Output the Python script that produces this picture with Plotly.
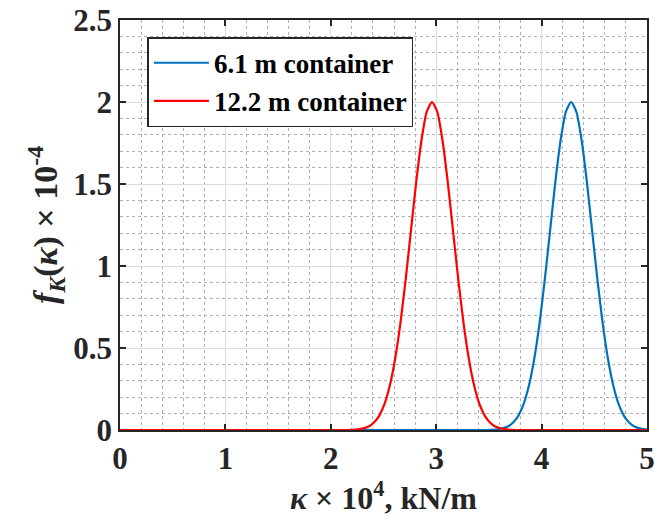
import plotly.graph_objects as go

# Values (x in 10^4 kN/m, y in 10^-4)
x_red = [0.0, 2.16, 2.26, 2.36, 2.41, 2.46, 2.51, 2.56, 2.61, 2.66, 2.71, 2.76, 2.81, 2.86, 2.91, 2.96,
         3.01, 3.06, 3.11, 3.16, 3.21, 3.26, 3.31, 3.36, 3.41, 3.46, 3.51, 3.56, 3.66, 3.76, 5.0]
y_red = [0.0, 0.0, 0.004, 0.022, 0.046, 0.088, 0.159, 0.271, 0.433, 0.649, 0.916, 1.213, 1.51, 1.765, 1.94, 2.0,
         1.94, 1.765, 1.51, 1.213, 0.916, 0.649, 0.433, 0.271, 0.159, 0.088, 0.046, 0.022, 0.004, 0.0, 0.0]

x_blue = [0.0, 3.48, 3.58, 3.68, 3.73, 3.78, 3.83, 3.88, 3.93, 3.98, 4.03, 4.08, 4.13, 4.18, 4.23, 4.28,
          4.33, 4.38, 4.43, 4.48, 4.53, 4.58, 4.63, 4.68, 4.73, 4.78, 4.83, 4.88, 4.98, 5.0]
y_blue = [0.0, 0.0, 0.004, 0.022, 0.046, 0.088, 0.159, 0.271, 0.433, 0.649, 0.916, 1.213, 1.51, 1.765, 1.94, 2.0,
          1.94, 1.765, 1.51, 1.213, 0.916, 0.649, 0.433, 0.271, 0.159, 0.088, 0.046, 0.022, 0.004, 0.003]

names = ["6.1 m container", "12.2 m container"]
x_ticks = [0, 1, 2, 3, 4, 5]
y_ticks = [0, 0.5, 1, 1.5, 2, 2.5]

FONT = "Liberation Serif"
AX = "#262626"

fig = go.Figure()
fig.add_trace(go.Scatter(x=x_blue, y=y_blue, mode="lines", name=names[0],
                         line=dict(color="#0072BD", width=2.2, shape="spline", smoothing=0.6)))
fig.add_trace(go.Scatter(x=x_red, y=y_red, mode="lines", name=names[1],
                         line=dict(color="#FF0000", width=2.2, shape="spline", smoothing=0.6)))

common = dict(
    showline=True, linecolor=AX, linewidth=1.5, mirror="ticks",
    ticks="inside", ticklen=6, tickwidth=1.5, tickcolor=AX,
    showgrid=True, gridcolor="#dcdcdc", gridwidth=1,
    zeroline=False, ticklabeloverflow="allow",
    tickfont=dict(family=FONT, size=31, color="#262626", weight="bold"),
)

fig.update_xaxes(range=[0, 5], tickvals=x_ticks, ticktext=[str(v) for v in x_ticks],
                 minor=dict(dtick=0.2, tick0=0, showgrid=True, gridcolor="#b0b0b0", griddash="dot", gridwidth=1),
                 title=dict(text="<i>κ</i> × 10<sup>4</sup>, kN/m",
                            font=dict(family=FONT, size=32, color="#262626", weight="bold"), standoff=4),
                 **common)
fig.update_yaxes(range=[0, 2.5], tickvals=y_ticks, ticktext=["0", "0.5", "1", "1.5", "2", "2.5"],
                 minor=dict(dtick=0.1, tick0=0, showgrid=True, gridcolor="#b0b0b0", griddash="dot", gridwidth=1),
                 title=dict(text="<i>f</i><sub><i>K</i></sub>(<i>κ</i>) × 10<sup>-4</sup>",
                            font=dict(family=FONT, size=34, color="#262626", weight="bold"), standoff=5),
                 **common)

fig.update_layout(
    width=658, height=516,
    margin=dict(l=120, r=3, t=17, b=86),
    plot_bgcolor="white", paper_bgcolor="white",
    showlegend=True,
    legend=dict(x=0.052, y=0.958, xanchor="left", yanchor="top",
                bgcolor="white", bordercolor=AX, borderwidth=1.5,
                font=dict(family=FONT, size=27, color="black", weight="bold"),
                tracegroupgap=0, itemwidth=55),
)

fig.write_html("out.html")
